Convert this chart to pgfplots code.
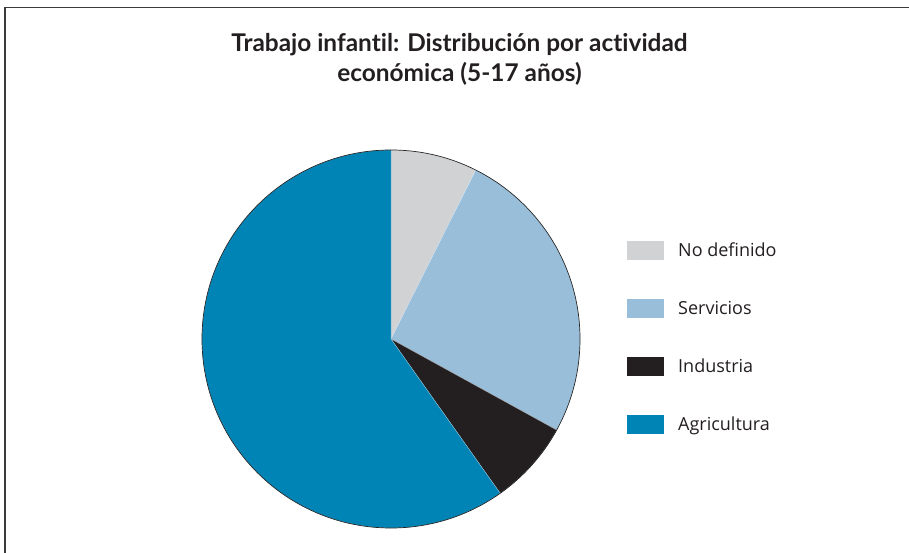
\documentclass[border=0pt]{standalone}
\usepackage{pgfplots}
\pgfplotsset{compat=1.18}
\usepackage{fontspec}
\setmainfont{Open Sans}
\newfontfamily\titlefont[Ligatures=NoCommon]{Lato}
\definecolor{cND}{HTML}{D1D2D4}
\definecolor{cSE}{HTML}{98BEDA}
\definecolor{cIN}{HTML}{231F20}
\definecolor{cAG}{HTML}{0083B5}
\definecolor{frame}{HTML}{3A3A3A}
\definecolor{txt}{HTML}{231F20}
\begin{document}
\begin{tikzpicture}
\begin{axis}[name=main, hide axis, scale only axis, width=909pt, height=553pt,
  xmin=0, xmax=909, ymin=0, ymax=553, clip=false]
\def\cx{391}\def\cy{214}\def\R{189}
\gdef\cum{0}
\foreach \v/\c in {7.4/cND, 25.6/cSE, 7.2/cIN, 59.8/cAG} {
  \pgfmathsetmacro{\sa}{90-\cum*3.6}
  \pgfmathsetmacro{\ea}{90-(\cum+\v)*3.6}
  \edef\temp{\noexpand\fill[\c, draw=white!60!\c, line width=0.3pt] (axis cs:\cx,\cy) -- ++(\sa:\R pt) arc[start angle=\sa, end angle=\ea, radius=\R pt] -- cycle;}
  \temp
  \pgfmathsetmacro{\nc}{\cum+\v}
  \xdef\cum{\nc}
}
\draw[black!85, line width=0.7pt] (axis cs:391,214) circle[radius=189pt];
% frame
\draw[frame, line width=1.6pt] (axis cs:5,0) -- (axis cs:5,545.5) -- (axis cs:909,545.5);
% title
\node[anchor=base, text=txt, font=\titlefont\fontsize{24.4}{28}\selectfont\bfseries] at (axis cs:459.5,501) {Trabajo infantil: Distribución por actividad};
\node[anchor=base, text=txt, font=\titlefont\fontsize{24.4}{28}\selectfont\bfseries] at (axis cs:459.5,471) {económica (5-17 años)};
% legend
\foreach \n/\c/\t in {0/cND/No definido, 1/cSE/Servicios, 2/cIN/Industria, 3/cAG/Agricultura} {
  \pgfmathsetmacro{\yb}{553-260.5-58*\n}
  \pgfmathsetmacro{\yt}{\yb+19.5}
  \pgfmathsetmacro{\ytx}{\yb+3.5}
  \edef\temp{\noexpand\fill[\c] (axis cs:627,\yb) rectangle (axis cs:664,\yt);
  \noexpand\node[anchor=base west, inner sep=0pt, text=txt, font=\noexpand\fontsize{18}{22}\noexpand\selectfont] at (axis cs:678,\ytx) {\t};}
  \temp
}
\end{axis}
\pgfresetboundingbox
\useasboundingbox (main.south west) rectangle (main.north east);
\end{tikzpicture}
\end{document}
